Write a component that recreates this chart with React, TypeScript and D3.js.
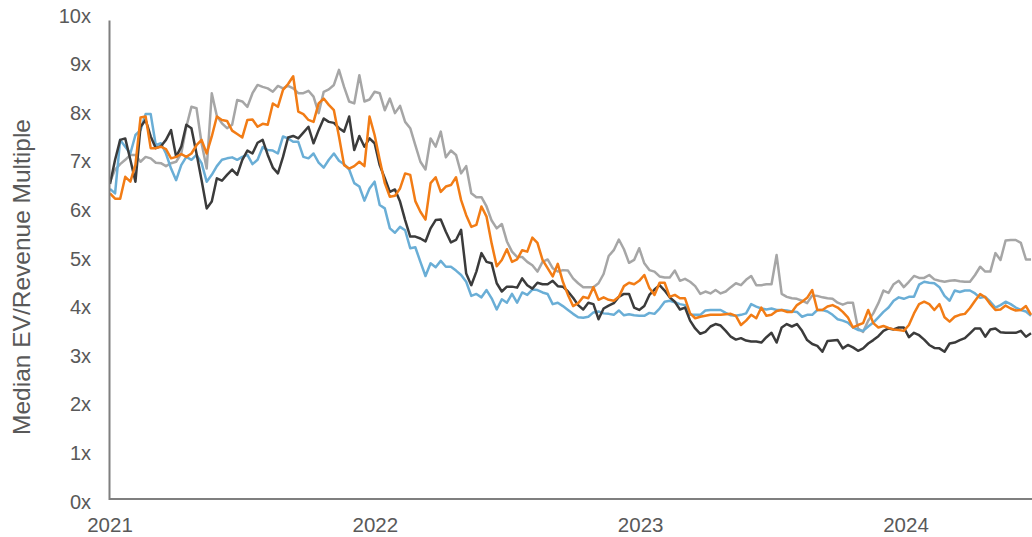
import React from "react";
import * as d3 from "d3";

// Weekly observations starting 2021-01-01
const START = new Date(2021, 0, 1);
const N_WEEKS = 182;

const grayValues = [
  6.55, 6.8, 6.91, 7.0, 7.1, 7.1, 6.96, 7.06, 7.03, 6.94,
  6.93, 6.87, 6.93, 6.96, 7.13, 7.68, 8.09, 8.06, 7.34, 6.82,
  8.37, 7.9, 7.75, 7.65, 7.72, 8.23, 8.2, 8.09, 8.37, 8.54,
  8.5, 8.47, 8.4, 8.52, 8.47, 8.52, 8.47, 8.37, 8.37, 8.42,
  8.3, 7.96, 8.4, 8.45, 8.54, 8.85, 8.5, 8.2, 8.16, 8.74,
  8.2, 8.24, 8.4, 8.37, 8.02, 8.26, 7.96, 8.11, 7.78, 7.65,
  7.3, 6.96, 6.8, 7.44, 7.27, 7.58, 7.05, 7.19, 7.1, 6.72,
  6.87, 6.31, 6.23, 6.23, 6.04, 5.75, 5.59, 5.68, 5.32, 5.11,
  5.0, 5.0, 4.9, 4.83, 4.7, 4.9, 4.95, 4.77, 4.7, 4.73,
  4.72, 4.56, 4.46, 4.38, 4.38, 4.38, 4.46, 4.65, 5.02, 5.14,
  5.36, 5.16, 4.88, 4.94, 5.18, 4.87, 4.73, 4.7, 4.6, 4.58,
  4.58, 4.72, 4.51, 4.55, 4.49, 4.4, 4.24, 4.29, 4.25, 4.32,
  4.25, 4.29, 4.38, 4.46, 4.42, 4.53, 4.61, 4.42, 4.42, 4.44,
  4.44, 5.04, 4.24, 4.18, 4.15, 4.14, 4.1, 4.05, 4.21, 4.2,
  4.17, 4.15, 4.14, 4.06, 4.02, 4.06, 4.06, 3.53, 3.46, 3.69,
  3.84, 4.05, 4.31, 4.26, 4.44, 4.51, 4.38, 4.49, 4.61, 4.57,
  4.57, 4.63, 4.54, 4.51, 4.49, 4.51, 4.52, 4.5, 4.49, 4.49,
  4.63, 4.8, 4.7, 4.7, 5.08, 4.94, 5.34, 5.35, 5.35, 5.29,
  4.95, 4.95,
];

const orangeValues = [
  6.31, 6.2, 6.2, 6.65, 6.55, 6.9, 7.87, 7.89, 7.24, 7.24,
  7.27, 7.22, 7.03, 7.06, 7.12, 7.06, 7.13, 7.3, 7.41, 7.13,
  7.48, 7.89, 7.82, 7.8, 7.6, 7.53, 7.46, 7.82, 7.83, 7.68,
  7.74, 7.72, 8.16, 8.09, 8.44, 8.56, 8.72, 7.99, 7.94, 7.82,
  7.78, 8.16, 8.26, 8.13, 8.02, 7.48, 6.89, 6.82, 6.87, 6.96,
  6.87, 7.89, 7.51, 7.0, 6.52, 6.24, 6.26, 6.41, 6.72, 6.69,
  6.15, 5.93, 5.77, 6.52, 6.64, 6.34, 6.45, 6.48, 6.64, 6.17,
  5.86, 5.62, 5.66, 6.04, 5.83, 5.28, 4.81, 4.94, 5.16, 4.9,
  4.95, 5.14, 5.11, 5.4, 5.29, 4.94, 4.77, 4.6, 4.86, 4.49,
  4.22, 3.99, 4.05, 4.18, 4.15, 4.38, 4.12, 4.17, 4.12, 4.1,
  4.18, 4.4, 4.47, 4.44, 4.51, 4.63, 4.36, 4.22, 4.47, 4.47,
  4.18, 4.22, 4.15, 4.15, 3.84, 3.74, 3.77, 3.79, 3.81, 3.81,
  3.81, 3.82, 3.83, 3.79, 3.6, 3.69, 3.81, 3.74, 3.96, 3.79,
  3.81, 3.89, 3.91, 3.87, 3.87, 4.01, 4.08, 4.16, 4.32, 3.91,
  3.91, 3.98, 4.01, 3.96, 3.87, 3.76, 3.55, 3.6, 3.64, 3.91,
  3.64, 3.55, 3.58, 3.54, 3.51, 3.5, 3.48, 3.6, 3.84, 4.03,
  4.08, 4.03, 3.91, 4.03, 3.76, 3.67, 3.77, 3.81, 3.83, 3.95,
  4.1, 4.24, 4.17, 4.03, 3.91, 3.92, 4.0, 3.94, 3.9, 3.91,
  3.99, 3.81,
];

const darkValues = [
  6.5, 7.0, 7.41, 7.44, 7.0, 6.55, 7.68, 7.82, 7.48, 7.24,
  7.28, 7.41, 7.61, 7.06, 7.27, 7.72, 7.65, 7.13, 6.58, 6.0,
  6.14, 6.62, 6.57, 6.69, 6.8, 6.69, 7.0, 7.19, 7.13, 7.35,
  7.41, 7.1, 6.84, 6.72, 7.06, 7.46, 7.49, 7.44, 7.56, 7.68,
  7.34, 7.61, 7.85, 7.78, 7.76, 7.65, 7.58, 7.89, 7.2, 7.49,
  7.27, 7.44, 7.34, 6.89, 6.62, 6.34, 6.39, 6.14, 5.76, 5.42,
  5.42, 5.38, 5.32, 5.59, 5.76, 5.77, 5.52, 5.3, 5.35, 5.56,
  4.66, 4.42, 4.7, 5.08, 4.9, 4.87, 4.46, 4.29, 4.39, 4.39,
  4.37, 4.56, 4.42, 4.35, 4.47, 4.44, 4.44, 4.51, 4.4, 4.39,
  4.29, 4.16, 4.01, 3.92, 4.06, 4.03, 3.72, 3.94, 4.0, 4.05,
  4.18, 4.24, 4.24, 3.96, 3.91, 3.99, 4.22, 4.33, 4.42, 4.31,
  4.17, 4.08, 3.92, 3.96, 3.69, 3.53, 3.42, 3.46, 3.57, 3.62,
  3.59, 3.48, 3.36, 3.3, 3.33, 3.28, 3.26, 3.26, 3.24, 3.35,
  3.44, 3.24, 3.55, 3.62, 3.57, 3.62, 3.48, 3.29, 3.21, 3.17,
  3.05, 3.27, 3.28, 3.29, 3.12, 3.19, 3.14, 3.07, 3.12, 3.22,
  3.29, 3.37, 3.48, 3.53, 3.51, 3.55, 3.55, 3.35, 3.44, 3.39,
  3.3, 3.19, 3.13, 3.12, 3.05, 3.22, 3.24, 3.29, 3.33, 3.43,
  3.53, 3.53, 3.36, 3.51, 3.53, 3.45, 3.44, 3.44, 3.44, 3.48,
  3.36, 3.43,
];

const blueValues = [
  6.4, 6.31, 7.41, 7.27, 7.13, 7.51, 7.61, 7.94, 7.94, 7.3,
  7.34, 7.13, 6.82, 6.58, 6.89, 7.06, 7.0, 7.1, 6.93, 6.55,
  6.69, 6.87, 7.0, 7.03, 7.05, 7.0, 7.06, 7.1, 6.91, 7.0,
  7.26, 7.2, 7.19, 7.13, 7.48, 7.44, 7.37, 7.37, 7.06, 7.03,
  7.13, 6.94, 6.84, 7.0, 7.13, 6.98, 6.91, 6.8, 6.52, 6.45,
  6.16, 6.41, 6.55, 6.07, 6.0, 5.59, 5.5, 5.62, 5.55, 5.18,
  5.2, 4.9, 4.61, 4.87, 4.79, 4.92, 4.8, 4.8, 4.72, 4.63,
  4.49, 4.2, 4.24, 4.17, 4.32, 4.15, 3.92, 4.13, 4.06, 4.24,
  4.06, 4.27, 4.22, 4.33, 4.32, 4.27, 4.24, 4.03, 4.06, 3.99,
  3.91, 3.83, 3.76, 3.75, 3.77, 3.86, 3.88, 3.84, 3.83, 3.81,
  3.9, 3.8, 3.82, 3.8, 3.79, 3.79, 3.85, 3.83, 3.94, 4.08,
  4.1, 4.07, 4.03, 4.01, 3.81, 3.81, 3.81, 3.9, 3.91, 3.91,
  3.91, 3.85, 3.8, 3.79, 3.81, 3.84, 4.03, 3.98, 3.94, 3.92,
  3.94, 3.91, 3.91, 3.9, 3.88, 3.87, 3.77, 3.81, 3.81, 3.91,
  3.91, 3.88, 3.81, 3.72, 3.69, 3.65, 3.55, 3.5, 3.48, 3.57,
  3.65, 3.76, 3.87, 3.96, 4.1, 4.17, 4.14, 4.18, 4.18, 4.43,
  4.49, 4.47, 4.46, 4.38, 4.2, 4.1, 4.31, 4.28, 4.31, 4.31,
  4.25, 4.16, 4.18, 4.08, 3.96, 4.01, 4.08, 4.03, 3.96, 3.91,
  3.88, 3.79,
];

const yTickValues = [0, 1, 2, 3, 4, 5, 6, 7, 8, 9, 10];
const xTickYears = [2021, 2022, 2023, 2024];
const yAxisTitle = "Median EV/Revenue Multiple";

const SERIES = [
  { name: "gray", values: grayValues, color: "#a6a6a6" },
  { name: "blue", values: blueValues, color: "#6aaed6" },
  { name: "dark", values: darkValues, color: "#3b3b3b" },
  { name: "orange", values: orangeValues, color: "#f27c15" },
];

const dates = d3.range(N_WEEKS).map((i) => d3.timeDay.offset(START, i * 7));

export default function App() {
  const W = 1032;
  const H = 537;
  const x = d3
    .scaleTime()
    .domain([new Date(2021, 0, 1), new Date(2024, 0, 1)])
    .range([110, 906]);
  const y = d3.scaleLinear().domain([0, 10]).range([500, 14]);

  const line = d3
    .line<number>()
    .x((_, i) => x(dates[i]))
    .y((d) => y(d))
    .curve(d3.curveLinear);

  const textColor = "#595959";
  const axisColor = "#7f7f7f";

  return (
    <svg
      width={W}
      height={H}
      style={{ position: "absolute", left: 0, top: 0, background: "#fff" }}
      fontFamily="'Liberation Sans', Arial, sans-serif"
    >
      <defs>
        <clipPath id="plotClip">
          <rect x={110} y={0} width={W - 110} height={500} />
        </clipPath>
      </defs>
      {/* y tick labels */}
      {yTickValues.map((v) => (
        <text
          key={v}
          x={91}
          y={y(v) + 8.5}
          textAnchor="end"
          fontSize={20}
          fill={textColor}
        >
          {`${v}x`}
        </text>
      ))}
      {/* x tick labels */}
      {xTickYears.map((yr) => (
        <text
          key={yr}
          x={x(new Date(yr, 0, 1))}
          y={532}
          textAnchor="middle"
          fontSize={20.5}
          fill={textColor}
        >
          {yr}
        </text>
      ))}
      {/* y axis title */}
      <text
        transform={`translate(30, 277) rotate(-90)`}
        textAnchor="middle"
        fontSize={24.5}
        fill={textColor}
      >
        {yAxisTitle}
      </text>
      {/* series */}
      <g clipPath="url(#plotClip)">
        {SERIES.map((s) => (
          <path
            key={s.name}
            d={line(s.values) || ""}
            fill="none"
            stroke={s.color}
            strokeWidth={2.5}
            strokeLinejoin="round"
          />
        ))}
      </g>
      {/* axes */}
      <line x1={109.5} x2={109.5} y1={20.5} y2={500} stroke={axisColor} strokeWidth={2} />
      <line x1={109} x2={W} y1={499} y2={499} stroke={axisColor} strokeWidth={2} />
    </svg>
  );
}
